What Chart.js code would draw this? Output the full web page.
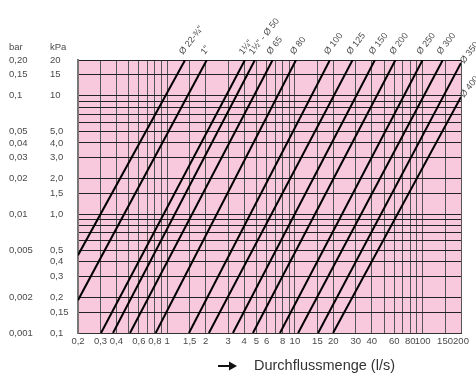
<!DOCTYPE html>
<html>
<head>
<meta charset="utf-8">
<title>Druckverlust – Durchflussmenge</title>
<script src="https://cdn.jsdelivr.net/npm/chart.js@4/dist/chart.umd.min.js"></script>
<style>
  html, body { margin: 0; padding: 0; background: #ffffff; }
  #wrap { width: 476px; height: 376px; }
</style>
</head>
<body>
<div id="wrap"><canvas id="chart" width="476" height="376"></canvas></div>
<script>
// Pipe sizes, one diagonal loss line each
const pipes = ['Ø 22-¾"', '1"', '1¼"', '1½" - Ø 50', 'Ø 65', 'Ø 80', 'Ø 100', 'Ø 125', 'Ø 150', 'Ø 200', 'Ø 250', 'Ø 300', 'Ø 350', 'Ø 400'];

// Where each line enters the diagram (flow l/s, loss kPa)
const flowStart = [0.2, 0.2, 0.303, 0.376, 0.511, 0.812, 1.48, 2.12, 3.27, 4.69, 7.64, 10.6, 15.2, 19.9];
const lossStart = [0.453, 0.189, 0.1, 0.1, 0.1, 0.1, 0.1, 0.1, 0.1, 0.1, 0.1, 0.1, 0.1, 0.1];

// Where each line leaves the diagram
const flowEnd = [1.38, 2.04, 4.06, 4.86, 6.69, 10.2, 18.8, 28.3, 42.3, 61.3, 100, 144, 200, 200];
const lossEnd = [20, 20, 20, 20, 20, 20, 20, 20, 20, 20, 20, 20, 18.9, 9.75];

// Flow axis (l/s)
const flowGrid = [0.2, 0.3, 0.4, 0.5, 0.6, 0.7, 0.8, 0.9, 1, 1.5, 2, 3, 4, 5, 6, 7, 8, 9, 10, 15, 20, 30, 40, 50, 60, 70, 80, 90, 100, 150, 200];
const flowTicks = [0.2, 0.3, 0.4, 0.6, 0.8, 1, 1.5, 2, 3, 4, 5, 6, 8, 10, 15, 20, 30, 40, 60, 80, 100, 150, 200];
const flowTickText = ['0,2', '0,3', '0,4', '0,6', '0,8', '1', '1,5', '2', '3', '4', '5', '6', '8', '10', '15', '20', '30', '40', '60', '80', '100', '150', '200'];

// Pressure loss axis (kPa)
const kpaGrid = [0.1, 0.15, 0.2, 0.3, 0.4, 0.5, 0.6, 0.7, 0.8, 0.9, 1, 1.5, 2, 3, 4, 5, 6, 7, 8, 9, 10, 15, 20];
const kpaTicks = [0.1, 0.15, 0.2, 0.3, 0.4, 0.5, 1, 1.5, 2, 3, 4, 5, 10, 15, 20];
const kpaTickText = ['0,1', '0,15', '0,2', '0,3', '0,4', '0,5', '1,0', '1,5', '2,0', '3,0', '4,0', '5,0', '10', '15', '20'];

// Same pressure loss in bar
const barTicks = [0.001, 0.002, 0.005, 0.01, 0.02, 0.03, 0.04, 0.05, 0.1, 0.15, 0.2];
const barTickText = ['0,001', '0,002', '0,005', '0,01', '0,02', '0,03', '0,04', '0,05', '0,1', '0,15', '0,20'];

const FONT = "'Liberation Sans', Arial, Helvetica, sans-serif";
const TEXT = '#4a4a4a';

function tickText(values, texts, v) {
  const i = values.indexOf(v);
  return i >= 0 ? texts[i] : '';
}

const datasets = pipes.map((name, i) => ({
  label: name,
  data: [{ x: flowStart[i], y: lossStart[i] }, { x: flowEnd[i], y: lossEnd[i] }],
  borderColor: '#000000',
  borderWidth: 2,
  pointRadius: 0,
  tension: 0,
  fill: false
}));

// Pink plot background
const plotBackground = {
  id: 'plotBackground',
  beforeDraw(chart) {
    const { ctx, chartArea: a } = chart;
    ctx.save();
    ctx.fillStyle = '#f8c8dc';
    ctx.fillRect(a.left, a.top, a.right - a.left, a.bottom - a.top);
    ctx.restore();
  }
};

// Rotated pipe names at the exit of each line, axis headings and flow caption
const annotations = {
  id: 'annotations',
  afterDraw(chart) {
    const { ctx, chartArea: a } = chart;
    ctx.save();
    ctx.fillStyle = TEXT;
    ctx.font = '9px ' + FONT;
    ctx.textAlign = 'left';
    ctx.textBaseline = 'alphabetic';
    chart.data.datasets.forEach((ds, i) => {
      const pts = chart.getDatasetMeta(i).data;
      const p = pts[pts.length - 1];
      let x, y;
      if (p.x >= a.right - 0.5) { x = p.x + 3; y = p.y + 1; }
      else { x = p.x - 2; y = a.top - 5; }
      ctx.save();
      ctx.translate(x, y);
      ctx.rotate(-52 * Math.PI / 180);
      ctx.fillText(ds.label, 0, 0);
      ctx.restore();
    });

    // unit headings above the two value columns
    ctx.font = '9.5px ' + FONT;
    ctx.textBaseline = 'middle';
    ctx.fillText('bar', chart.scales.yBar.left, 47);
    ctx.fillText('kPa', chart.scales.y.left, 47);

    // arrow pointing along the flow direction
    ctx.strokeStyle = '#111111';
    ctx.fillStyle = '#111111';
    ctx.lineWidth = 2;
    ctx.beginPath();
    ctx.moveTo(218, 366);
    ctx.lineTo(231, 366);
    ctx.stroke();
    ctx.beginPath();
    ctx.moveTo(237, 366);
    ctx.lineTo(229, 361.5);
    ctx.lineTo(229, 370.5);
    ctx.closePath();
    ctx.fill();

    // flow caption under the x axis
    ctx.fillStyle = '#333333';
    ctx.font = '14.5px ' + FONT;
    ctx.fillText('Durchflussmenge (l/s)', 254, 366);
    ctx.restore();
  }
};

new Chart(document.getElementById('chart'), {
  type: 'line',
  data: { datasets },
  options: {
    responsive: false,
    animation: false,
    devicePixelRatio: 1,
    layout: { padding: { top: 60, right: 15, bottom: 0, left: 9 } },
    plugins: { legend: { display: false }, tooltip: { enabled: false } },
    scales: {
      x: {
        type: 'logarithmic',
        min: 0.2,
        max: 200,
        afterBuildTicks: (s) => { s.ticks = flowGrid.map(v => ({ value: v })); },
        afterFit: (s) => { s.height = 43; },
        grid: { color: '#555555', lineWidth: 1, drawTicks: false },
        border: { color: '#333333', width: 1 },
        ticks: {
          autoSkip: false, maxRotation: 0, minRotation: 0, padding: 3,
          color: TEXT, font: { family: FONT, size: 9.5 },
          callback: (v) => tickText(flowTicks, flowTickText, v)
        }
      },
      y: {
        type: 'logarithmic',
        position: 'left',
        weight: 0,
        min: 0.1,
        max: 20,
        afterBuildTicks: (s) => { s.ticks = kpaGrid.map(v => ({ value: v })); },
        afterFit: (s) => { s.width = 28; },
        grid: { color: '#222222', lineWidth: 1, drawTicks: false },
        border: { color: '#777777', width: 2 },
        ticks: {
          autoSkip: false, crossAlign: 'far', padding: 0,
          color: TEXT, font: { family: FONT, size: 9.5 },
          callback: (v) => tickText(kpaTicks, kpaTickText, v)
        }
      },
      yBar: {
        type: 'logarithmic',
        position: 'left',
        weight: 1,
        min: 0.001,
        max: 0.2,
        afterBuildTicks: (s) => { s.ticks = barTicks.map(v => ({ value: v })); },
        afterFit: (s) => { s.width = 41; },
        grid: { display: false, drawTicks: false },
        border: { display: false },
        ticks: {
          autoSkip: false, crossAlign: 'far', padding: 0,
          color: TEXT, font: { family: FONT, size: 9.5 },
          callback: (v) => tickText(barTicks, barTickText, v)
        }
      }
    }
  },
  plugins: [plotBackground, annotations]
});
</script>
</body>
</html>
